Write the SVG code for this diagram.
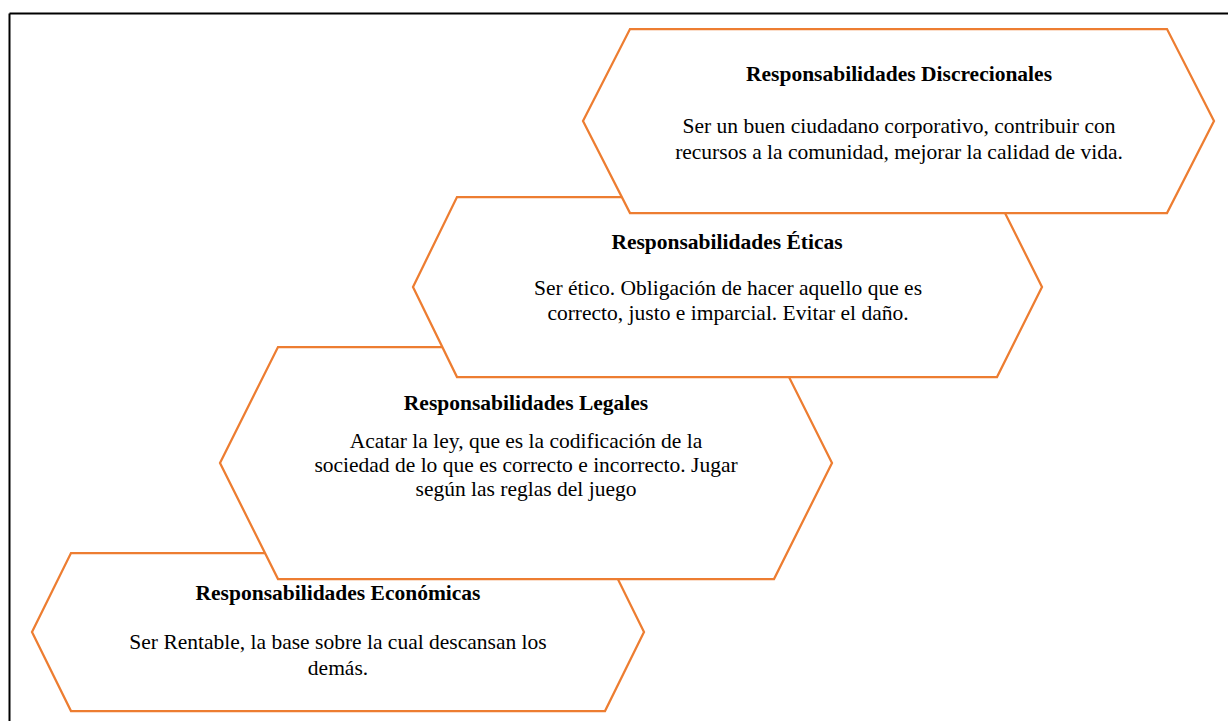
<svg xmlns="http://www.w3.org/2000/svg" width="1228" height="721" viewBox="0 0 1228 721">
  <style>
    .hex { fill: #ffffff; stroke: #ED7D31; stroke-width: 2.25; stroke-linejoin: miter; }
    .t { font-family: "Liberation Serif", "Times New Roman", serif; font-size: 21.5px; fill: #000000; text-anchor: middle; }
    .b { font-weight: bold; }
  </style>
  <rect x="0" y="0" width="1228" height="721" fill="#ffffff"/>
  <g id="frame">
    <line x1="9.5" y1="13.5" x2="1228" y2="13.5" stroke="#000000" stroke-width="2"/>
    <line x1="9.5" y1="13.5" x2="9.5" y2="721" stroke="#000000" stroke-width="2"/>
  </g>
  <g id="connectors"></g>
  <g id="economicas">
    <polygon class="hex" points="71,553 605,553 644,632 605,711 71,711 32,632"/>
    <text class="t b" x="338" y="600">Responsabilidades Económicas</text>
    <text class="t" x="338" y="649">Ser Rentable, la base sobre la cual descansan los</text>
    <text class="t" x="338" y="675">demás.</text>
  </g>
  <g id="legales">
    <polygon class="hex" points="278,347 774,347 832,463 774,579 278,579 220,463"/>
    <text class="t b" x="526" y="410">Responsabilidades Legales</text>
    <text class="t" x="526" y="448">Acatar la ley, que es la codificación de la</text>
    <text class="t" x="526" y="472">sociedad de lo que es correcto e incorrecto. Jugar</text>
    <text class="t" x="526" y="496">según las reglas del juego</text>
  </g>
  <g id="eticas">
    <polygon class="hex" points="457,197 997,197 1042,287 997,377 457,377 413,287"/>
    <text class="t b" x="727" y="249">Responsabilidades Éticas</text>
    <text class="t" x="728" y="295">Ser ético. Obligación de hacer aquello que es</text>
    <text class="t" x="728" y="320">correcto, justo e imparcial. Evitar el daño.</text>
  </g>
  <g id="discrecionales">
    <polygon class="hex" points="630,29 1167,29 1214,121 1167,213 630,213 583,121"/>
    <text class="t b" x="899" y="81">Responsabilidades Discrecionales</text>
    <text class="t" x="899" y="133">Ser un buen ciudadano corporativo, contribuir con</text>
    <text class="t" x="899" y="159">recursos a la comunidad, mejorar la calidad de vida.</text>
  </g>
</svg>
